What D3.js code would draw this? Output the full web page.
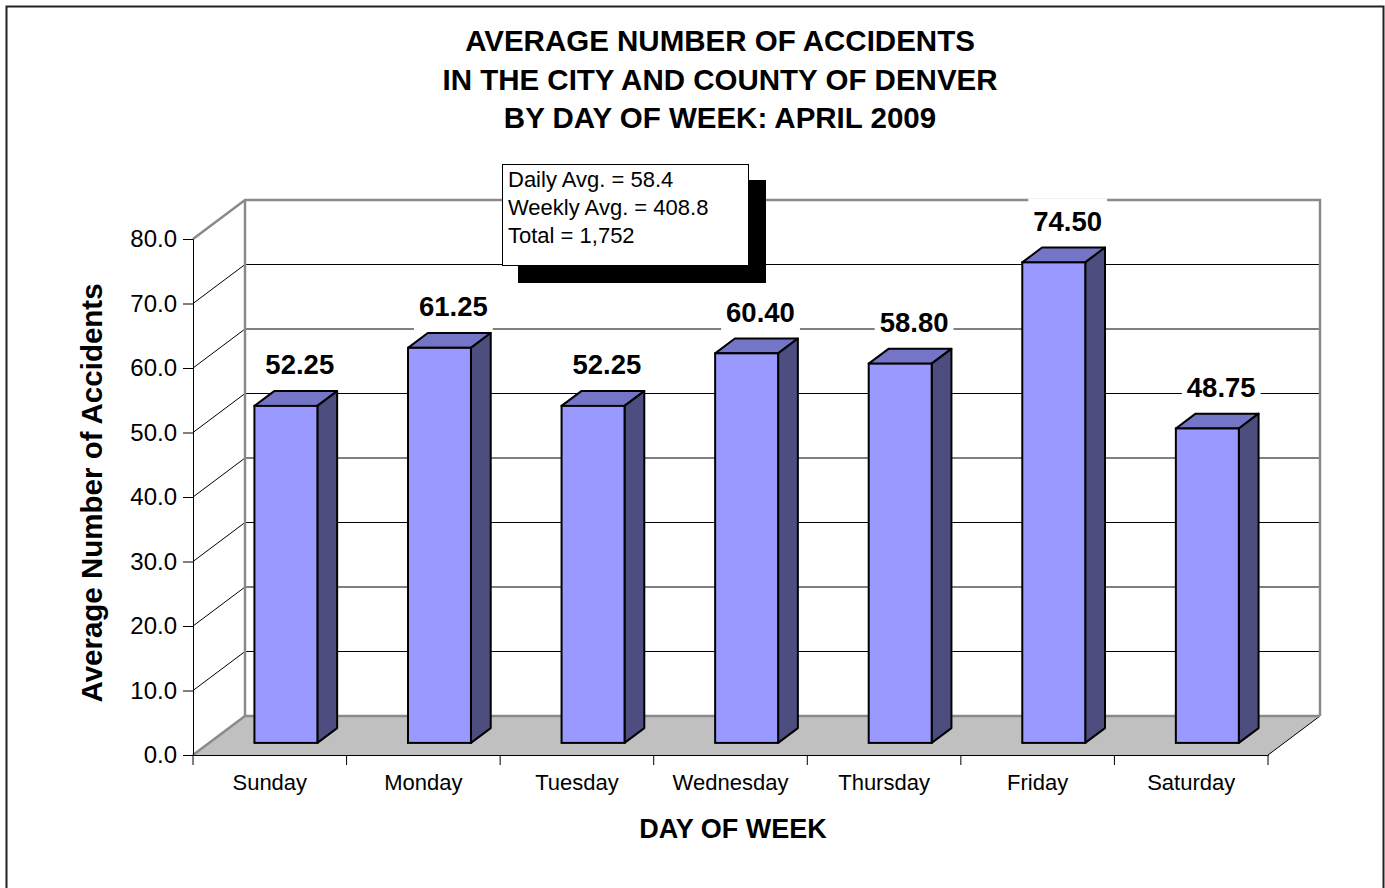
<!DOCTYPE html>
<html>
<head>
<meta charset="utf-8">
<script src="https://cdn.jsdelivr.net/npm/d3@7"></script>
<style>
  body { margin: 0; background: #fff; }
  svg text { font-family: "Liberation Sans", Arial, sans-serif; }
</style>
</head>
<body>
<div class="d3Chart"></div>
<script>
// data
var days = ["Sunday", "Monday", "Tuesday", "Wednesday", "Thursday", "Friday", "Saturday"];
var avgAccidents = [52.25, 61.25, 52.25, 60.40, 58.80, 74.50, 48.75];
var yTicks = [0, 10, 20, 30, 40, 50, 60, 70, 80];
var titleLines = ["AVERAGE NUMBER OF ACCIDENTS", "IN THE CITY AND COUNTY OF DENVER", "BY DAY OF WEEK: APRIL 2009"];
var summaryLines = ["Daily Avg. = 58.4", "Weekly Avg. = 408.8", "Total = 1,752"];

var width = 1385;
var height = 888;

var svg = d3.select(".d3Chart")
  .append("svg")
  .attr("width", width)
  .attr("height", height);

// outer frame
svg.append("rect")
  .attr("x", 6.5).attr("y", 6.5)
  .attr("width", 1377).attr("height", 900)
  .attr("fill", "#fff").attr("stroke", "#222").attr("stroke-width", 2);

// 3D geometry: front plane + depth offset
var depthX = 52, depthY = -39;
var barFront = 0.31, barBack = 0.69;

var xScale = d3.scaleBand().domain(days).range([193, 1268]).paddingInner(0.59).paddingOuter(0.295);
var xStep = d3.scaleBand().domain(days).range([193, 1268]).padding(0);
var yScale = d3.scaleLinear().domain([0, 80]).range([755, 239]);

var x0 = 193, x1 = 1268, yBase = yScale(0), yTop = yScale(80);

// floor
svg.append("path")
  .attr("d", `M${x0},${yBase} L${x1},${yBase} L${x1 + depthX},${yBase + depthY} L${x0 + depthX},${yBase + depthY} Z`)
  .attr("fill", "#c0c0c0");
svg.append("line")
  .attr("x1", x1).attr("y1", yBase).attr("x2", x1 + depthX).attr("y2", yBase + depthY)
  .attr("stroke", "#000").attr("stroke-width", 1);

// wall gridlines
var inner = yTicks.filter(d => d > 0 && d < 80);
svg.append("g").selectAll("line").data(inner).enter().append("line")
  .attr("x1", x0).attr("y1", d => yScale(d))
  .attr("x2", x0 + depthX).attr("y2", d => yScale(d) + depthY)
  .attr("stroke", "#000").attr("stroke-width", 1);
svg.append("g").selectAll("line").data(inner).enter().append("line")
  .attr("x1", x0 + depthX).attr("y1", d => yScale(d) + depthY)
  .attr("x2", x1 + depthX).attr("y2", d => yScale(d) + depthY)
  .attr("stroke", "#000").attr("stroke-width", 1);

// wall borders (gray)
var gray = "#8a8a8a";
svg.append("path")
  .attr("d", `M${x0},${yBase} L${x0 + depthX},${yBase + depthY} L${x1 + depthX},${yBase + depthY}`)
  .attr("fill", "none").attr("stroke", gray).attr("stroke-width", 2.5);
svg.append("path")
  .attr("d", `M${x0},${yTop} L${x0 + depthX},${yTop + depthY} L${x1 + depthX},${yTop + depthY} L${x1 + depthX},${yBase + depthY}`)
  .attr("fill", "none").attr("stroke", gray).attr("stroke-width", 2.5);
svg.append("line")
  .attr("x1", x0 + depthX).attr("y1", yTop + depthY)
  .attr("x2", x0 + depthX).attr("y2", yBase + depthY)
  .attr("stroke", gray).attr("stroke-width", 2.5);

// axes
var yAxis = d3.axisLeft(yScale).tickValues(yTicks).tickSize(10).tickPadding(6)
  .tickFormat(d3.format(".1f"));
var yG = svg.append("g").attr("transform", `translate(${x0},0)`).call(yAxis);
yG.selectAll("text").style("font-size", "24px").attr("fill", "#000");

var xAxis = d3.axisBottom(xStep).tickSize(0).tickPadding(19);
var xG = svg.append("g").attr("transform", `translate(0,${yBase})`).call(xAxis);
xG.selectAll("text").style("font-size", "22px").attr("fill", "#000");
// category boundary ticks
var bounds = days.map(d => xStep(d)).concat([x1]);
xG.selectAll(".btick").data(bounds).enter().append("line")
  .attr("x1", d => d).attr("x2", d => d).attr("y1", 0).attr("y2", 10)
  .attr("stroke", "#000");
svg.selectAll(".domain").attr("stroke", "#000");

// bars
var fx = barFront, bx = barBack - barFront;
var bars = svg.append("g").selectAll("g").data(avgAccidents).enter().append("g")
  .attr("transform", `translate(${depthX * fx},${depthY * fx})`);
var bw = xScale.bandwidth();
var sx = depthX * bx, sy = depthY * bx;
bars.each(function (v, i) {
  var g = d3.select(this);
  var l = xScale(days[i]), r = l + bw, t = yScale(v), b = yScale(0);
  g.append("path")
    .attr("d", `M${l},${t} L${l + sx},${t + sy} L${r + sx},${t + sy} L${r},${t} Z`)
    .attr("fill", "#7575c8").attr("stroke", "#000").attr("stroke-width", 2).attr("stroke-linejoin", "round");
  g.append("path")
    .attr("d", `M${r},${t} L${r + sx},${t + sy} L${r + sx},${b + sy} L${r},${b} Z`)
    .attr("fill", "#4d4d80").attr("stroke", "#000").attr("stroke-width", 2).attr("stroke-linejoin", "round");
  g.append("rect")
    .attr("x", l).attr("y", t).attr("width", bw).attr("height", b - t)
    .attr("fill", "#9999ff").attr("stroke", "#000").attr("stroke-width", 2);
});

// value labels with white boxes
var labels = svg.append("g").selectAll("g").data(avgAccidents).enter().append("g");
labels.each(function (v, i) {
  var g = d3.select(this);
  var cx = xScale(days[i]) + depthX * fx + (bw + sx) / 2 + 4;
  var by = yScale(v) + depthY * fx + sy - 17;
  var box = g.append("rect").attr("fill", "#fff");
  var t = g.append("text")
    .attr("x", cx).attr("y", by)
    .attr("text-anchor", "middle")
    .style("font-size", "27.5px").style("font-weight", "bold")
    .text(d3.format(".2f")(v));
  var bb = t.node().getBBox();
  box.attr("x", bb.x - 5).attr("y", by - 32).attr("width", bb.width + 10).attr("height", 46);
});

// title
svg.append("g").selectAll("text").data(titleLines).enter().append("text")
  .attr("x", 720).attr("y", (d, i) => 51 + i * 38.5)
  .attr("text-anchor", "middle")
  .style("font-size", "29.5px").style("font-weight", "bold")
  .text(d => d);

// axis titles
svg.append("text")
  .attr("transform", "translate(102,493) rotate(-90)")
  .attr("text-anchor", "middle")
  .style("font-size", "29.5px").style("font-weight", "bold")
  .text("Average Number of Accidents");
svg.append("text")
  .attr("x", 733).attr("y", 838)
  .attr("text-anchor", "middle")
  .style("font-size", "27px").style("font-weight", "bold")
  .text("DAY OF WEEK");

// summary box with shadow
svg.append("rect").attr("x", 518).attr("y", 180).attr("width", 248).attr("height", 103).attr("fill", "#000");
svg.append("rect").attr("x", 502.5).attr("y", 164.5).attr("width", 246).attr("height", 101)
  .attr("fill", "#fff").attr("stroke", "#000").attr("stroke-width", 1);
svg.append("g").selectAll("text").data(summaryLines).enter().append("text")
  .attr("x", 508).attr("y", (d, i) => 187 + i * 28)
  .style("font-size", "22px")
  .text(d => d);
</script>
</body>
</html>
